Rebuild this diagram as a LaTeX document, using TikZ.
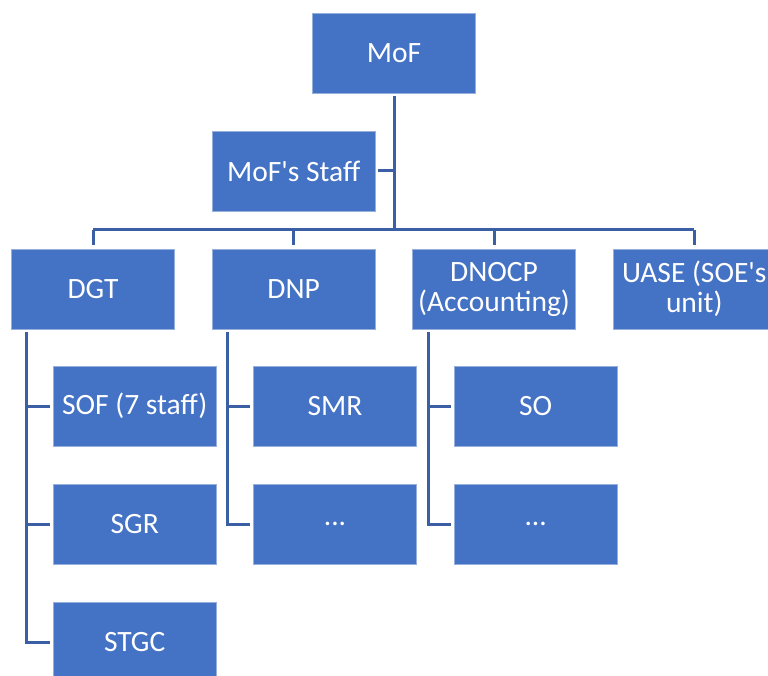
\documentclass[tikz,border=0pt]{standalone}
\usepackage{fontspec}
\setmainfont{Carlito}
\definecolor{boxfill}{RGB}{68,114,196}
\definecolor{boxedge}{RGB}{150,175,220}
\definecolor{linkcol}{RGB}{59,95,165}
\tikzset{
  orgbox/.style={rectangle, fill=boxfill, draw=boxedge, line width=0.7pt,
    minimum width=162.6pt, minimum height=80pt, inner sep=0pt,
    text=white, align=center, font=\fontsize{29.5}{30}\selectfont},
  link/.style={draw=linkcol, line width=3pt}
}
\begin{document}
\begin{tikzpicture}[x=1pt,y=-1pt]
\useasboundingbox (0,0) rectangle (768,676);
\clip (0,0) rectangle (768,676);
\fill[white] (0,0) rectangle (768,676);
\node[orgbox] (mof) at (394,53) {MoF};
\node[orgbox] (staff) at (293.7,171) {MoF\textquotesingle s Staff};
\node[orgbox] (dgt) at (93,289) {DGT};
\node[orgbox] (dnp) at (293.7,289) {DNP};
\node[orgbox] (dnocp) at (494,289) {DNOCP\\(Accounting)};
\node[orgbox] (uase) at (694.3,289) {UASE (SOE\textquotesingle s\\unit)};
\node[orgbox] (sof) at (134.7,406) {SOF (7 staff)};
\node[orgbox] (sgr) at (134.7,524) {SGR};
\node[orgbox] (stgc) at (134.7,642) {STGC};
\node[orgbox] (smr) at (335,406) {SMR};
\node[orgbox] (dnpmore) at (335,524) {...};
\node[orgbox] (so) at (535.7,406) {SO};
\node[orgbox] (dnocpmore) at (535.7,524) {...};
\coordinate (bus) at (394,230);
\coordinate (dgtv) at (26.7,332);
\coordinate (dnpv) at (227.3,332);
\coordinate (dnocpv) at (428,332);
% top
\draw[link] ([yshift=-3pt]mof.south) -- (bus);
\draw[link] ([xshift=3pt]staff.east) -- (staff.east -| bus);
\draw[link] (dgt.north |- bus) -- (uase.north |- bus);
\draw[link] (dgt.north |- bus) -- ([yshift=4pt]dgt.north);
\draw[link] (dnp.north |- bus) -- ([yshift=4pt]dnp.north);
\draw[link] (dnocp.north |- bus) -- ([yshift=4pt]dnocp.north);
\draw[link] (uase.north |- bus) -- ([yshift=4pt]uase.north);
% DGT children
\draw[link] (dgtv) |- ([xshift=-3pt]stgc.west);
\draw[link] (dgtv |- sof.west) -- ([xshift=-3pt]sof.west);
\draw[link] (dgtv |- sgr.west) -- ([xshift=-3pt]sgr.west);
% DNP children
\draw[link] (dnpv) |- ([xshift=-3pt]dnpmore.west);
\draw[link] (dnpv |- smr.west) -- ([xshift=-3pt]smr.west);
% DNOCP children
\draw[link] (dnocpv) |- ([xshift=-3pt]dnocpmore.west);
\draw[link] (dnocpv |- so.west) -- ([xshift=-3pt]so.west);
\end{tikzpicture}
\end{document}
